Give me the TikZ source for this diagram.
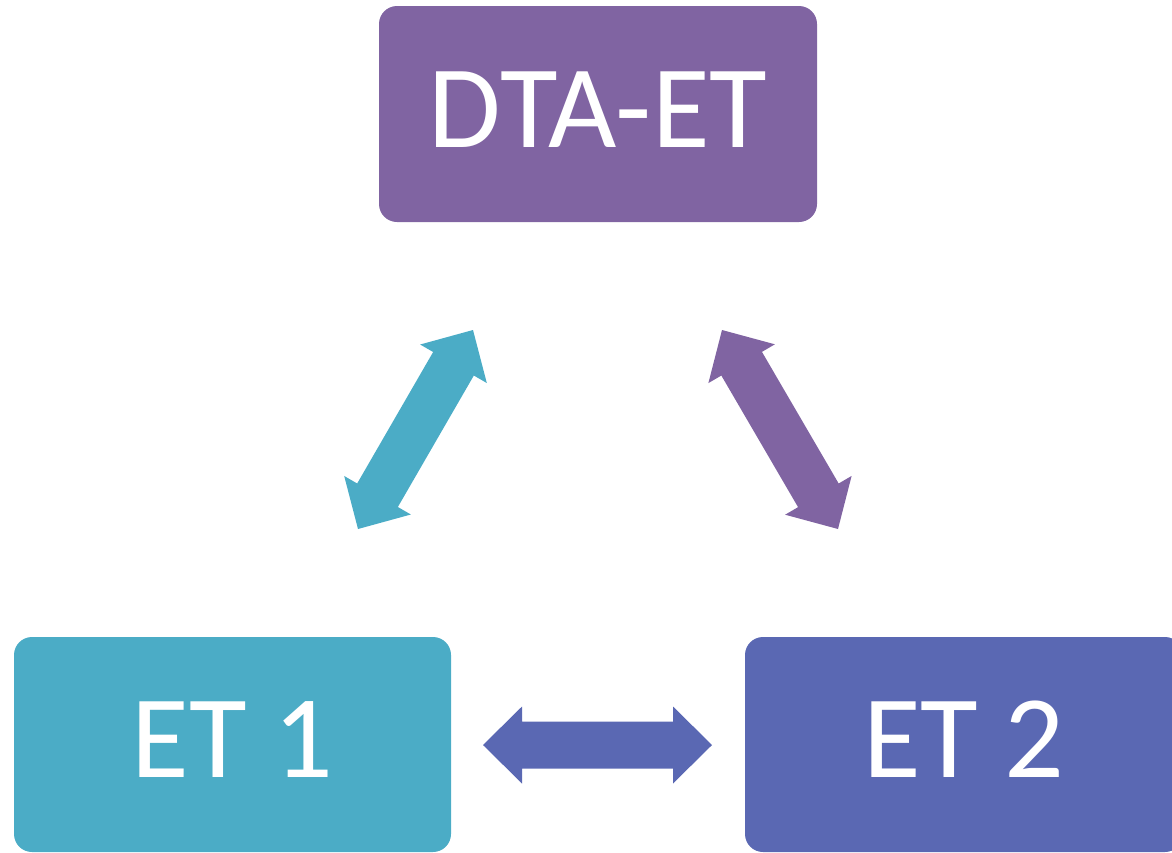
\documentclass[tikz,border=0pt]{standalone}
\usepackage{fontspec}
\setmainfont{Carlito}
\usetikzlibrary{calc}
\definecolor{cCyan}{HTML}{4BACC6}
\definecolor{cPurple}{HTML}{8064A2}
\definecolor{cBlue}{HTML}{5A68B3}
\tikzset{
  box/.style={rounded corners=18pt, inner sep=0pt, text=white,
    font=\fontsize{118}{120}\selectfont, text height=75pt, text depth=9pt},
}
% block double arrow between two named coordinates
\newcommand\blkarrow[3]{%
  \path ($(#1)!39pt!(#2)$) coordinate (h1) ($(#2)!39pt!(#1)$) coordinate (h2);
  \fill[#3] (#1) -- ($(h1)!38.5pt!90:(#2)$) -- ($(h1)!23.5pt!90:(#2)$)
    -- ($(h2)!23.5pt!-90:(#1)$) -- ($(h2)!38.5pt!-90:(#1)$) -- (#2)
    -- ($(h2)!38.5pt!90:(#1)$) -- ($(h2)!23.5pt!90:(#1)$)
    -- ($(h1)!23.5pt!-90:(#2)$) -- ($(h1)!38.5pt!-90:(#2)$) -- cycle;
}
\begin{document}
\begin{tikzpicture}[x=1pt,y=-1pt]
\useasboundingbox (0,0) rectangle (1172,852);
\clip (0,0) rectangle (1172,852);
% boxes
\node[box, fill=cPurple, minimum width=438pt, minimum height=216pt] (dta) at (598,114) {DTA-ET};
\node[box, fill=cCyan, minimum width=437pt, minimum height=215pt] (et1) at (232.5,744.5) {ET 1};
\node[box, fill=cBlue, minimum width=438pt, minimum height=215pt] (et2) at (964,744.5) {ET 2};
% arrow end points
\coordinate (l1) at (358,529);
\coordinate (l2) at (473,330);
\coordinate (r1) at (722,330);
\coordinate (r2) at (838,529);
\coordinate (b1) at (483,745);
\coordinate (b2) at (712,745);
\blkarrow{l1}{l2}{cCyan}
\blkarrow{r1}{r2}{cPurple}
\blkarrow{b1}{b2}{cBlue}
\end{tikzpicture}
\end{document}
